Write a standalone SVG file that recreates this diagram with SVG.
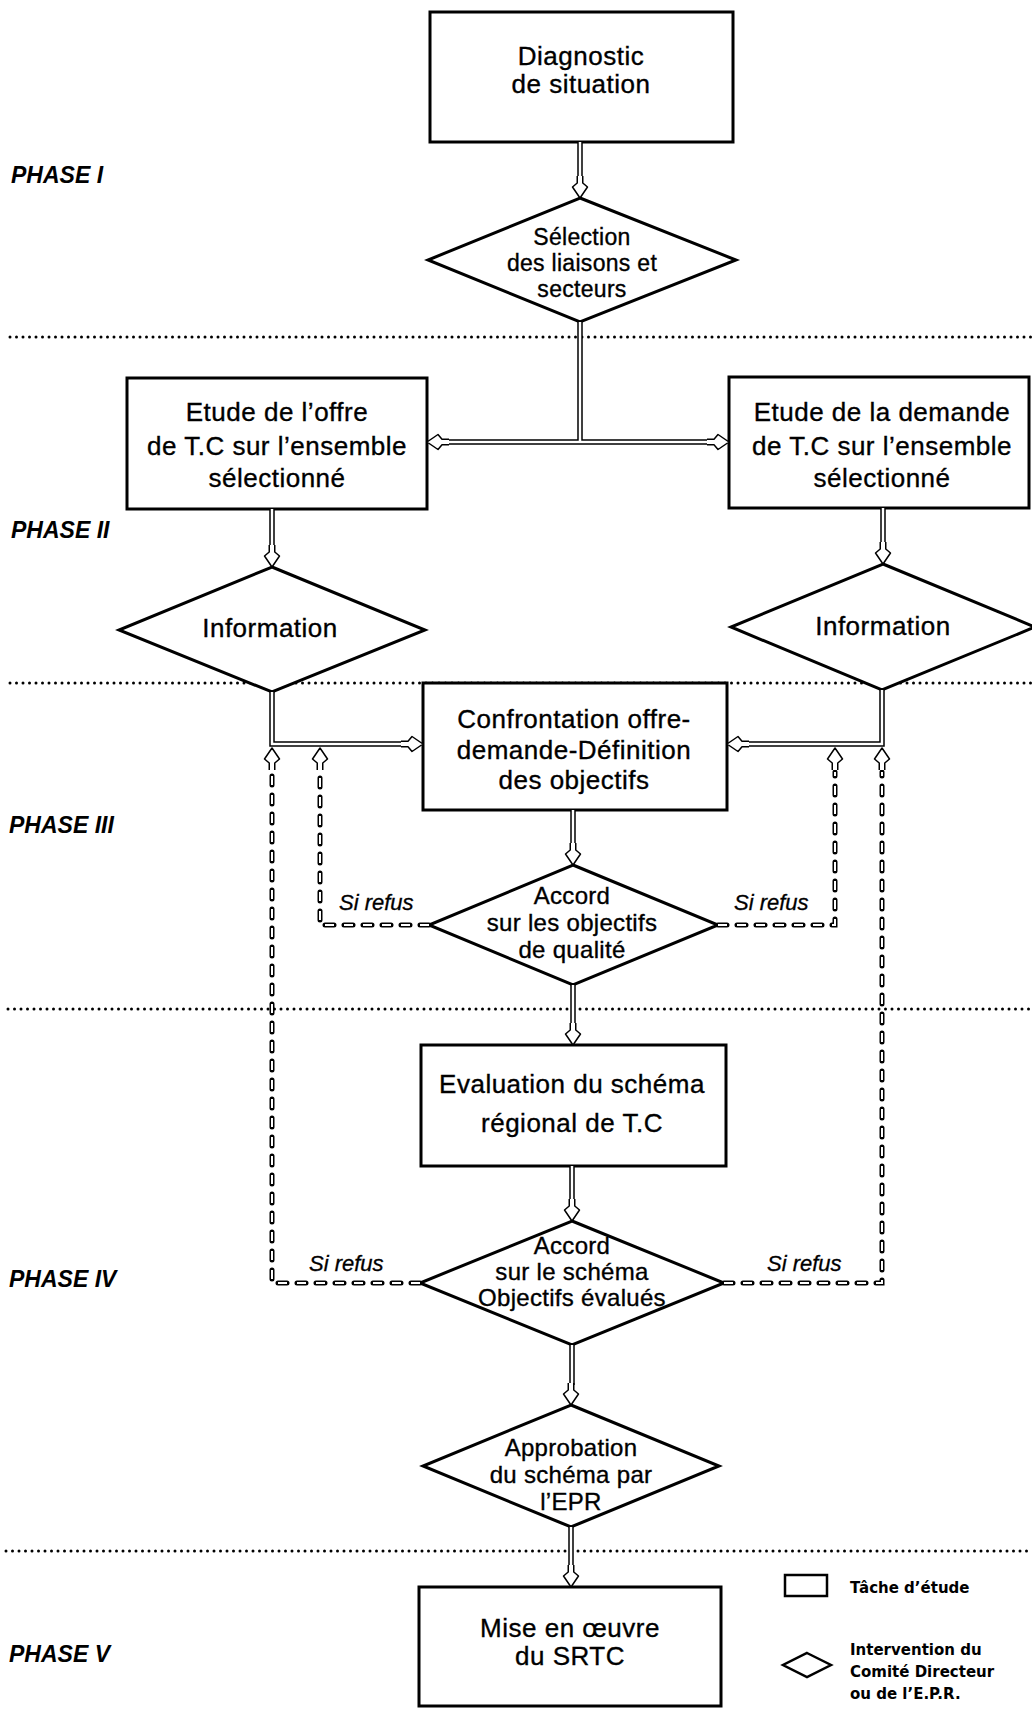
<svg xmlns="http://www.w3.org/2000/svg" xmlns:xlink="http://www.w3.org/1999/xlink" width="1032" height="1713" viewBox="0 0 1032 1713">
<style>
.bg{fill:#fff}
.box{fill:#fff;stroke:#000;stroke-width:3}
.dia{fill:#fff;stroke:#000;stroke-width:3;stroke-linejoin:miter}
.t{font-family:"Liberation Sans",Arial,sans-serif;font-size:26px;text-anchor:middle;letter-spacing:0.5px;fill:#000;stroke:#000;stroke-width:0.35px}
.ts{font-size:23px;letter-spacing:0.3px}
.tm{font-size:24px;letter-spacing:0.3px}
.ph{font-family:"Liberation Sans",Arial,sans-serif;font-style:italic;font-weight:bold;font-size:23px;fill:#000}
.sr{font-family:"Liberation Sans",Arial,sans-serif;font-style:italic;font-size:22px;fill:#000;stroke:#000;stroke-width:0.3px}
.lg{font-family:"DejaVu Sans",sans-serif;font-weight:bold;font-size:15px;fill:#000}
.dot{stroke:#000;stroke-width:3;stroke-linecap:round;stroke-dasharray:0 6.5;fill:none}
.po{stroke:#000;stroke-width:5.5;fill:none}
.pi{stroke:#fff;stroke-width:2.5;fill:none}
.do{stroke:#000;stroke-width:5;stroke-linecap:round;stroke-dasharray:9 10;fill:none}
.di{stroke:#fff;stroke-width:2;stroke-dasharray:9 10;fill:none}
.ah{fill:#fff;stroke:#000;stroke-width:1.5;stroke-linejoin:round}
</style>
<defs>
<path id="ah" class="ah" d="M-2.75,-22 L-2.75,-15 L-7.5,-11 L0,0 L7.5,-11 L2.75,-15 L2.75,-22"/>
</defs>
<rect class="bg" x="0" y="0" width="1032" height="1713"/>

<g id="phase-lines">
<path class="dot" d="M10,337 H1032"/>
<path class="dot" d="M10,683 H1032"/>
<path class="dot" d="M8,1009 H1032"/>
<path class="dot" d="M6,1551 H1032"/>
</g>

<g id="phase-labels">
<text class="ph" x="11" y="183">PHASE I</text>
<text class="ph" x="11" y="538">PHASE II</text>
<text class="ph" x="9" y="833">PHASE III</text>
<text class="ph" x="9" y="1287">PHASE IV</text>
<text class="ph" x="9" y="1662">PHASE V</text>
</g>

<g id="n-diagnostic">
<rect class="box" x="430" y="12" width="303" height="130"/>
<text class="t" x="581" y="65">Diagnostic</text>
<text class="t" x="581" y="93">de situation</text>
</g>
<g id="n-selection">
<polygon class="dia" points="580,198 736,260 580,322 428,260"/>
<text class="t ts" x="582" y="245">Sélection</text>
<text class="t ts" x="582" y="271">des liaisons et</text>
<text class="t ts" x="582" y="297">secteurs</text>
</g>
<g id="n-offre">
<rect class="box" x="127" y="378" width="300" height="131"/>
<text class="t" x="277" y="421">Etude de l’offre</text>
<text class="t" x="277" y="455">de T.C sur l’ensemble</text>
<text class="t" x="277" y="487">sélectionné</text>
</g>
<g id="n-demande">
<rect class="box" x="729" y="377" width="300" height="131"/>
<text class="t" x="882" y="421">Etude de la demande</text>
<text class="t" x="882" y="455">de T.C sur l’ensemble</text>
<text class="t" x="882" y="487">sélectionné</text>
</g>
<g id="n-info-left">
<polygon class="dia" points="272,567 425,630 272,692 119,630"/>
<text class="t" x="270" y="637">Information</text>
</g>
<g id="n-info-right">
<polygon class="dia" points="883,564 1035,627 882,690 731,627"/>
<text class="t" x="883" y="635">Information</text>
</g>
<g id="n-confrontation">
<rect class="box" x="423" y="683" width="304" height="127"/>
<text class="t" x="574" y="728">Confrontation  offre-</text>
<text class="t" x="574" y="759">demande-Définition</text>
<text class="t" x="574" y="789">des objectifs</text>
</g>
<g id="n-accord-objectifs">
<polygon class="dia" points="573,865 718,925 573,985 429,925"/>
<text class="t tm" x="572" y="904">Accord</text>
<text class="t tm" x="572" y="931">sur les objectifs</text>
<text class="t tm" x="572" y="958">de qualité</text>
</g>
<g id="n-evaluation">
<rect class="box" x="421" y="1045" width="305" height="121"/>
<text class="t" x="572" y="1093">Evaluation du schéma</text>
<text class="t" x="572" y="1132">régional de T.C</text>
</g>
<g id="n-accord-schema">
<polygon class="dia" points="572,1221 724,1283 572,1345 420,1283"/>
<text class="t tm" x="572" y="1254">Accord</text>
<text class="t tm" x="572" y="1280">sur le schéma</text>
<text class="t tm" x="572" y="1306">Objectifs évalués</text>
</g>
<g id="n-approbation">
<polygon class="dia" points="571,1405 719,1466 571,1527 423,1466"/>
<text class="t tm" x="571" y="1456">Approbation</text>
<text class="t tm" x="571" y="1483">du schéma par</text>
<text class="t tm" x="571" y="1510">l’EPR</text>
</g>
<g id="n-mise">
<rect class="box" x="419" y="1587" width="302" height="119"/>
<text class="t" x="570" y="1637">Mise en œuvre</text>
<text class="t" x="570" y="1665">du SRTC</text>
</g>

<g id="connectors">
<g id="pipes-outer">
<path class="po" d="M580,142 V178"/>
<path class="po" d="M580,322 V442 M449,442 H707"/>
<path class="po" d="M272,509 V547"/>
<path class="po" d="M883,508 V544"/>
<path class="po" d="M272,692 V744 H403"/>
<path class="po" d="M882,690 V744 H747"/>
<path class="po" d="M573,810 V845"/>
<path class="po" d="M573,985 V1025"/>
<path class="po" d="M572,1166 V1201"/>
<path class="po" d="M572,1345 V1385"/>
<path class="po" d="M571,1527 V1567"/>
</g>
<g id="dashes-outer">
<path class="do" d="M429,925 H320 V772"/>
<path class="do" d="M718,925 H835 V772"/>
<path class="do" d="M420,1283 H272 V772"/>
<path class="do" d="M724,1283 H882 V772"/>
</g>
<g id="pipes-inner">
<path class="pi" d="M580,142 V180"/>
<path class="pi" d="M580,322 V442 M447,442 H709"/>
<path class="pi" d="M272,509 V549"/>
<path class="pi" d="M883,508 V546"/>
<path class="pi" d="M272,692 V744 H405"/>
<path class="pi" d="M882,690 V744 H745"/>
<path class="pi" d="M573,810 V847"/>
<path class="pi" d="M573,985 V1027"/>
<path class="pi" d="M572,1166 V1203"/>
<path class="pi" d="M572,1345 V1387"/>
<path class="pi" d="M571,1527 V1569"/>
</g>
<g id="dashes-inner">
<path class="di" d="M429,925 H320 V772"/>
<path class="di" d="M718,925 H835 V772"/>
<path class="di" d="M420,1283 H272 V772"/>
<path class="di" d="M724,1283 H882 V772"/>
</g>
<g id="arrowheads">
<use xlink:href="#ah" transform="translate(580,198)"/>
<use xlink:href="#ah" transform="translate(427,442) rotate(90)"/>
<use xlink:href="#ah" transform="translate(729,442) rotate(-90)"/>
<use xlink:href="#ah" transform="translate(272,567)"/>
<use xlink:href="#ah" transform="translate(883,564)"/>
<use xlink:href="#ah" transform="translate(423,744) rotate(-90)"/>
<use xlink:href="#ah" transform="translate(727,744) rotate(90)"/>
<use xlink:href="#ah" transform="translate(272,748) rotate(180)"/>
<use xlink:href="#ah" transform="translate(320,748) rotate(180)"/>
<use xlink:href="#ah" transform="translate(835,748) rotate(180)"/>
<use xlink:href="#ah" transform="translate(882,748) rotate(180)"/>
<use xlink:href="#ah" transform="translate(573,865)"/>
<use xlink:href="#ah" transform="translate(573,1045)"/>
<use xlink:href="#ah" transform="translate(572,1221)"/>
<use xlink:href="#ah" transform="translate(571,1405)"/>
<use xlink:href="#ah" transform="translate(571,1587)"/>
</g>
<g id="connector-labels">
<text class="sr" x="339" y="910">Si refus</text>
<text class="sr" x="734" y="910">Si refus</text>
<text class="sr" x="309" y="1271">Si refus</text>
<text class="sr" x="767" y="1271">Si refus</text>
</g>
</g>

<g id="legend">
<rect class="box" x="785" y="1575" width="42" height="21" style="stroke-width:2.5"/>
<text class="lg" x="850" y="1593">Tâche d’étude</text>
<polygon class="dia" points="807,1653 831,1665 807,1677 783,1665" style="stroke-width:2.5"/>
<text class="lg" x="850" y="1655">Intervention du</text>
<text class="lg" x="850" y="1677">Comité Directeur</text>
<text class="lg" x="850" y="1699">ou de l’E.P.R.</text>
</g>
</svg>
